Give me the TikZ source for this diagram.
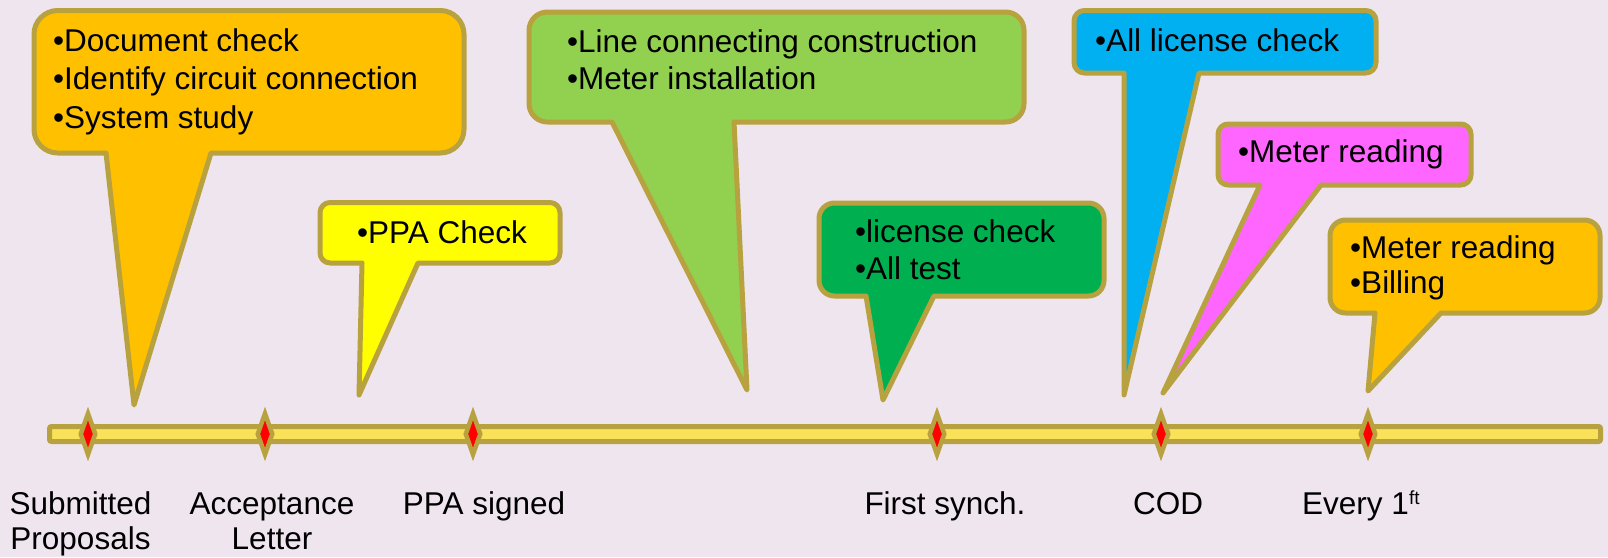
\documentclass[tikz,border=0pt]{standalone}
\usepackage{fontspec}
\setmainfont{Liberation Sans}
\definecolor{bgc}{HTML}{EFE5EF}
\definecolor{olv}{HTML}{B8A23F}
\definecolor{barc}{HTML}{FAE15A}
\definecolor{corange}{HTML}{FFC000}
\definecolor{cyellow}{HTML}{FFFF00}
\definecolor{clgreen}{HTML}{92D050}
\definecolor{cgreen}{HTML}{00B050}
\definecolor{cblue}{HTML}{00B0F0}
\definecolor{cmag}{HTML}{FF66FF}
\newcommand\mycallout[9]{% color, l, t, r, b, base left, base right, tip x, tip y
  \pgfmathsetmacro\myR{0.1667*min(#4-#2,#5-#3)}%
  \pgfmathsetmacro\myK{0.448*\myR}%
  \draw[callout, fill=#1] (#6,#5) -- (#8,#9) -- (#7,#5) -- ({#4-\myR},#5)
    .. controls ({#4-\myK},#5) and (#4,{#5-\myK}) .. (#4,{#5-\myR}) -- (#4,{#3+\myR})
    .. controls (#4,{#3+\myK}) and ({#4-\myK},#3) .. ({#4-\myR},#3) -- ({#2+\myR},#3)
    .. controls ({#2+\myK},#3) and (#2,{#3+\myK}) .. (#2,{#3+\myR}) -- (#2,{#5-\myR})
    .. controls (#2,{#5-\myK}) and ({#2+\myK},#5) .. ({#2+\myR},#5) -- cycle;}
\newcommand\ctrlines[2]{\vtop{\halign{\hfil##\hfil\cr#1\cr#2\cr}}}
\newcommand\lftlines[1]{\vtop{#1}}
\tikzset{
  callout/.style={draw=olv, line width=5pt, line join=round},
  ctext/.style={anchor=base west, inner sep=0pt, text=black, font=\fontsize{31.5}{37.5}\selectfont},
  lbl/.style={anchor=base, inner sep=0pt, text=black, font=\fontsize{31.5}{35}\selectfont},
  barstyle/.style={draw=olv, fill=barc, line width=5pt, rounded corners=2pt},
  mk/.style={draw=olv, fill=red, line width=4.5pt, line join=miter}
}
\begin{document}
\begin{tikzpicture}[x=1pt,y=-1pt]
\useasboundingbox[fill=bgc] (0,0) rectangle (1608,557);
% callouts
\mycallout{corange}{34}{10.5}{464}{153}{106}{211}{134}{405}
\mycallout{cyellow}{320}{202.5}{560}{263}{362}{418}{359}{395}
\mycallout{clgreen}{529}{12}{1024}{122}{612}{734}{747}{390}
\mycallout{cgreen}{819}{203}{1104}{296}{866}{934}{883}{400}
\mycallout{cblue}{1074}{10.5}{1376}{73}{1124}{1199}{1124}{395}
\mycallout{cmag}{1218}{124}{1471}{185}{1260}{1321}{1163}{393}
\mycallout{corange}{1330}{220}{1600}{313}{1375}{1441}{1368}{391}
% callout texts
\node[ctext] (t1) at (53,51) {\lftlines{\baselineskip=38.5pt\hbox{•Document check}\hbox{•Identify circuit connection}\hbox{•System study}}};
\node[ctext] (t2) at (357,243) {•PPA Check};
\node[ctext] (t3) at (567,52) {\lftlines{\baselineskip=37pt\hbox{•Line connecting construction}\hbox{•Meter installation}}};
\node[ctext] (t4) at (855,242) {\lftlines{\baselineskip=37pt\hbox{•license check}\hbox{•All test}}};
\node[ctext] (t5) at (1095,51) {•All license check};
\node[ctext] (t6) at (1238,162) {•Meter reading};
\node[ctext] (t7) at (1350,258) {\lftlines{\baselineskip=35.5pt\hbox{•Meter reading}\hbox{•Billing}}};
% timeline bar
\draw[barstyle] (49.5,426.5) rectangle (1600.5,441.5);
% markers
\foreach \mx/\mn in {88/m1, 265/m2, 473/m3, 937/m4, 1161/m5, 1368/m6}{
  \coordinate (\mn) at (\mx,434);
  \draw[mk] (\mn) ++(0,-20.5) -- ++(7.25,20.5) -- ++(-7.25,20.5) -- ++(-7.25,-20.5) -- cycle;
}
% labels
\node[lbl] (l1) at (80.5,514) {\ctrlines{Submitted}{Proposals}};
\node[lbl] (l2) at (272,514) {\ctrlines{Acceptance}{Letter}};
\node[lbl] (l3) at (484,514) {PPA signed};
\node[lbl] (l4) at (945,514) {First synch.};
\node[lbl] (l5) at (1168,514) {COD};
\node[lbl, anchor=base west] (l6) at (1302,514) {Every 1\raisebox{10pt}{\fontsize{19}{19}\selectfont ft}};
\end{tikzpicture}
\end{document}
